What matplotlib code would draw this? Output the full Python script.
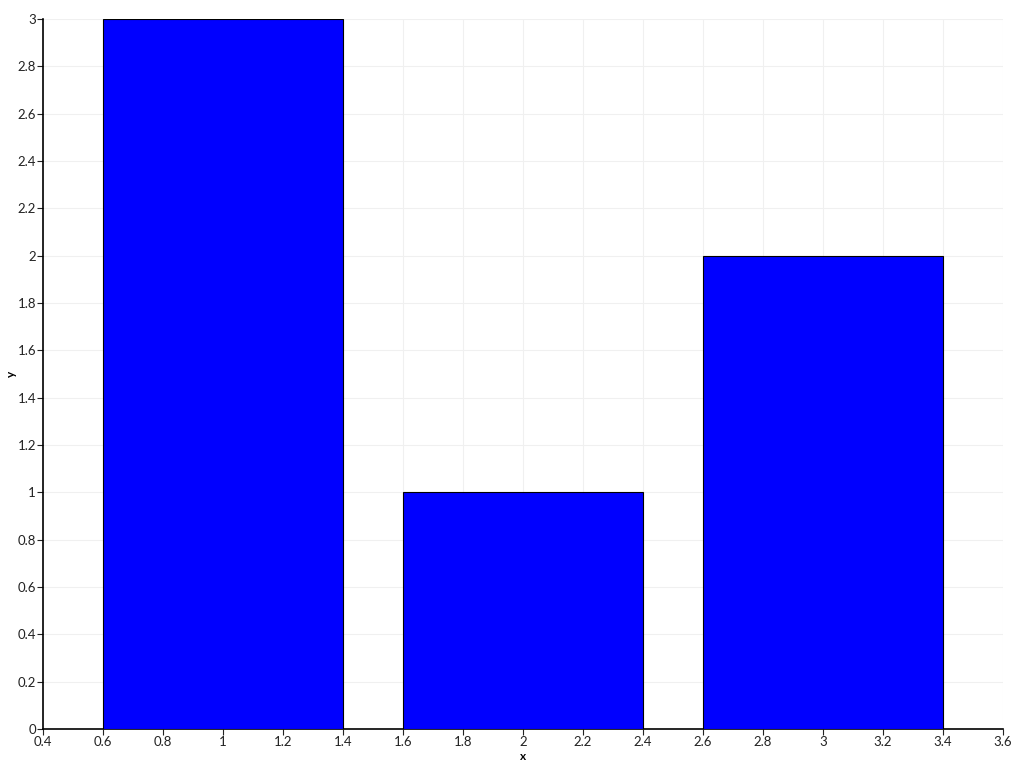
import matplotlib
matplotlib.use("Agg")
import matplotlib.pyplot as plt
import numpy as np

x_values = [1, 2, 3]
y_values = [3, 1, 2]
bar_width = 0.8
x_ticks = [0.4, 0.6, 0.8, 1.0, 1.2, 1.4, 1.6, 1.8, 2.0, 2.2, 2.4, 2.6, 2.8, 3.0, 3.2, 3.4, 3.6]
y_ticks = [0, 0.2, 0.4, 0.6, 0.8, 1.0, 1.2, 1.4, 1.6, 1.8, 2.0, 2.2, 2.4, 2.6, 2.8, 3.0]

plt.rcParams['font.family'] = ['Lato', 'DejaVu Sans']

fig = plt.figure(figsize=(10.24, 7.68), dpi=100)
ax = fig.add_axes([43/1024, 1 - 729/768, (1003 - 43)/1024, (729 - 19)/768])

ax.bar(x_values, y_values, width=bar_width, color='#0000ff', edgecolor='black', linewidth=0.8, zorder=3)

ax.set_xlim(0.4, 3.6)
ax.set_ylim(0, 3)
ax.set_xticks(x_ticks)
ax.set_yticks(y_ticks)

def fmt(v):
    s = f"{v:.1f}"
    if s.endswith(".0"):
        s = s[:-2]
    return s

ax.set_xticklabels([fmt(v) for v in x_ticks])
ax.set_yticklabels([fmt(v) for v in y_ticks])

ax.grid(True, color='#f0f0f0', linewidth=0.8, zorder=0)
for side in ['top', 'right']:
    ax.spines[side].set_visible(False)
ax.spines['left'].set_linewidth(1.2)
ax.spines['bottom'].set_linewidth(1.2)
ax.tick_params(axis='both', labelsize=9.5, length=4, width=0.8, pad=1, colors='#222222')

ax.set_xlabel('x', fontsize=8.5, fontweight='bold', labelpad=2)
ax.set_ylabel('y', fontsize=8.5, fontweight='bold', va='center')
ax.yaxis.set_label_coords(-32 / 960, 0.5)

fig.savefig('out.png', dpi=100)
